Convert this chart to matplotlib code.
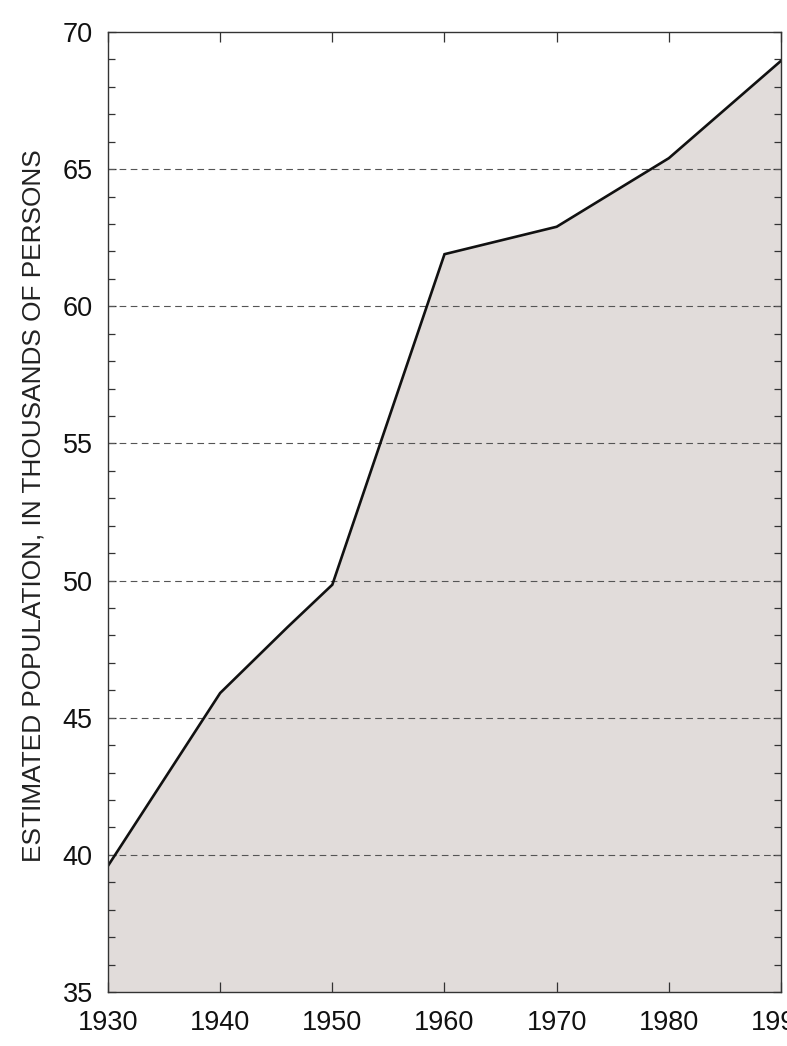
import matplotlib.pyplot as plt
from matplotlib.ticker import MultipleLocator

plt.rcParams['font.family'] = ['Liberation Sans', 'DejaVu Sans']

# estimated population, thousands of persons
years = [1930, 1940, 1946, 1950, 1960, 1970, 1980, 1990]
population = [39.6, 45.9, 48.3, 49.85, 61.9, 62.9, 65.4, 68.95]

fig = plt.figure(figsize=(7.87, 10.46), dpi=100)
ax = fig.add_axes([0.1372, 0.0516, 0.8552, 0.9178])

ax.fill_between(years, population, 35, color='#e1dcda', lw=0, zorder=1)
ax.plot(years, population, color='#111111', lw=1.9, zorder=4, solid_joinstyle='miter')

for g in [40, 45, 50, 55, 60, 65]:
    ax.axhline(g, color='#555555', lw=0.8, dashes=(6, 4), zorder=3)

ax.set_xlim(1930, 1990)
ax.set_ylim(35, 70)
ax.xaxis.set_major_locator(MultipleLocator(10))
ax.yaxis.set_major_locator(MultipleLocator(5))
ax.yaxis.set_minor_locator(MultipleLocator(1))

ax.tick_params(axis='both', which='both', direction='in', colors='#333333',
               labelcolor='#111111', labelsize=19.5, top=True, right=True)
ax.tick_params(axis='x', which='major', length=7, width=0.9, pad=13)
ax.tick_params(axis='y', which='major', length=6, width=0.9, pad=11)
ax.tick_params(axis='y', which='minor', length=5, width=0.9)

for s in ax.spines.values():
    s.set_color('#333333')
    s.set_linewidth(1.0)
    s.set_zorder(5)

fig.text(34 / 787, 1 - 506 / 1046, 'ESTIMATED POPULATION, IN THOUSANDS OF PERSONS',
         rotation=90, ha='center', va='center', fontsize=18.9, color='#222222')

fig.savefig('out.png', dpi=100)
